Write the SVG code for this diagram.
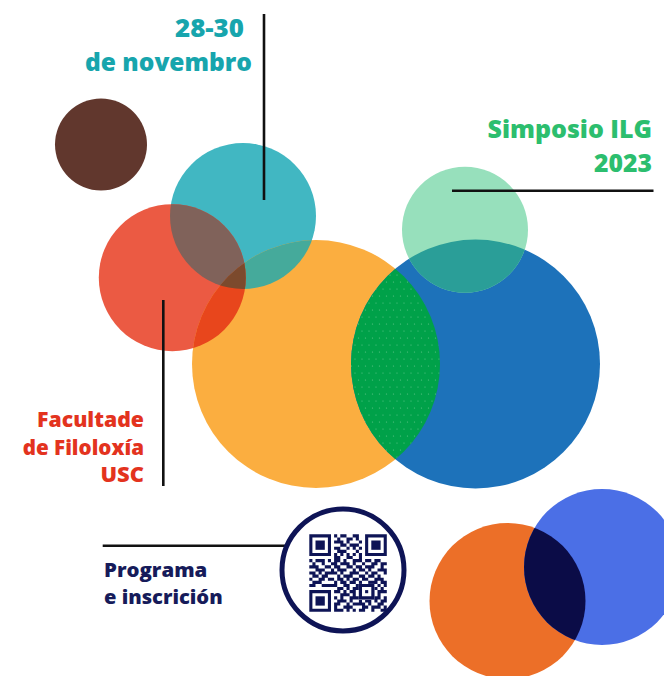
<svg xmlns="http://www.w3.org/2000/svg" width="664" height="676" viewBox="0 0 664 676">
<style>
.t{font-family:"Open Sans","Liberation Sans",sans-serif;font-weight:800;}
.ln{stroke:#111;stroke-width:2.6;fill:none;}
.qr{fill:#0E1456;}
</style>
<defs>
<clipPath id="cOrange"><circle cx="316" cy="364" r="124"/></clipPath>
<clipPath id="cRed"><circle cx="172.3" cy="277.7" r="73.5"/></clipPath>
<clipPath id="cBlue"><circle cx="475.5" cy="364" r="124.5"/></clipPath>
<clipPath id="cOrange2"><circle cx="507.5" cy="601" r="78"/></clipPath>
<pattern id="dots" width="7" height="14" patternUnits="userSpaceOnUse">
<circle cx="1.5" cy="2" r="0.6" fill="#5CC488"/>
<circle cx="5" cy="9" r="0.6" fill="#5CC488"/>
</pattern>
</defs>
<rect width="664" height="676" fill="#fff"/>

<g id="circles">
<circle id="brown" cx="101" cy="144.5" r="46" fill="#61372D"/>
<circle id="teal" cx="243" cy="216" r="73" fill="#41B7C2"/>
<circle id="red" cx="172.3" cy="277.7" r="73.5" fill="#EB5A43"/>
<circle id="orange" cx="316" cy="364" r="124" fill="#FBAE40"/>
<circle id="blue" cx="475.5" cy="364" r="124.5" fill="#1D72BA"/>
<circle id="mint" cx="465" cy="229.7" r="63" fill="#97E0BC"/>
<circle id="orange2" cx="507.5" cy="601" r="78" fill="#EC6F28"/>
<circle id="blue2" cx="602" cy="567" r="78" fill="#4B6FE6"/>
</g>

<g id="overlaps">
<circle cx="243" cy="216" r="73" fill="#80625A" clip-path="url(#cRed)"/>
<circle cx="243" cy="216" r="73" fill="#45AA9B" clip-path="url(#cOrange)"/>
<circle cx="172.3" cy="277.7" r="73.5" fill="#E8461C" clip-path="url(#cOrange)"/>
<g clip-path="url(#cOrange)"><circle cx="243" cy="216" r="73" fill="#7C4A2D" clip-path="url(#cRed)"/></g>
<circle cx="475.5" cy="364" r="124.5" fill="#00A149" clip-path="url(#cOrange)"/>
<circle cx="475.5" cy="364" r="124.5" fill="url(#dots)" clip-path="url(#cOrange)"/>
<circle cx="465" cy="229.7" r="63" fill="#2A9E98" clip-path="url(#cBlue)"/>
<circle cx="602" cy="567" r="78" fill="#0B0C47" clip-path="url(#cOrange2)"/>
</g>

<g id="connectors">
<line class="ln" x1="264" y1="14" x2="264" y2="200"/>
<line class="ln" x1="452" y1="190.7" x2="653.5" y2="190.7"/>
<line class="ln" x1="163.3" y1="300" x2="163.3" y2="486"/>
<line class="ln" x1="102.7" y1="545.7" x2="303" y2="545.7"/>
</g>

<g id="qr-code">
<circle cx="343" cy="570" r="61" fill="#fff" stroke="#0E1456" stroke-width="5"/>
<g class="qr" transform="translate(309.3 534.3) scale(3.1)">
<path fill-rule="evenodd" d="M0 0h7v7h-7z M1 1v5h5v-5z M18 0h7v7h-7z M19 1v5h5v-5z M0 18h7v7h-7z M1 19v5h5v-5z"/>
<rect x="2" y="2" width="3" height="3"/>
<rect x="20" y="2" width="3" height="3"/>
<rect x="2" y="20" width="3" height="3"/>
<path d="M8 0h1v1h-1z M10 0h2v1h-2z M14 0h2v1h-2z
M9 1h1v1h-1z M12 1h2v1h-2z M15 1h1v1h-1z
M8 2h3v1h-3z M12 2h1v1h-1z M16 2h1v1h-1z
M10 3h2v1h-2z M13 3h3v1h-3z
M8 4h2v1h-2z M12 4h1v1h-1z M14 4h1v1h-1z M16 4h1v1h-1z
M9 5h3v1h-3z M15 5h1v1h-1z
M8 6h1v1h-1z M10 6h1v1h-1z M12 6h1v1h-1z M14 6h1v1h-1z M16 6h1v1h-1z
M8 7h2v1h-2z M12 7h2v1h-2z M16 7h1v1h-1z
M0 8h1v1h-1z M2 8h3v1h-3z M6 8h1v1h-1z M8 8h2v1h-2z M11 8h1v1h-1z M14 8h3v1h-3z M18 8h2v1h-2z M21 8h2v1h-2z
M1 9h1v1h-1z M4 9h1v1h-1z M7 9h2v1h-2z M10 9h3v1h-3z M14 9h1v1h-1z M17 9h1v1h-1z M20 9h2v1h-2z M23 9h2v1h-2z
M0 10h3v1h-3z M5 10h2v1h-2z M8 10h2v1h-2z M12 10h2v1h-2z M15 10h2v1h-2z M18 10h3v1h-3z M23 10h1v1h-1z
M2 11h3v1h-3z M7 11h1v1h-1z M9 11h3v1h-3z M14 11h1v1h-1z M16 11h2v1h-2z M19 11h1v1h-1z M22 11h3v1h-3z
M0 12h2v1h-2z M3 12h1v1h-1z M5 12h4v1h-4z M10 12h1v1h-1z M13 12h3v1h-3z M18 12h1v1h-1z M20 12h2v1h-2z M24 12h1v1h-1z
M1 13h2v1h-2z M4 13h2v1h-2z M9 13h1v1h-1z M11 13h3v1h-3z M16 13h2v1h-2z M19 13h2v1h-2z M22 13h1v1h-1z
M0 14h1v1h-1z M3 14h2v1h-2z M6 14h2v1h-2z M9 14h2v1h-2z M12 14h1v1h-1z M14 14h2v1h-2z M17 14h2v1h-2z M21 14h3v1h-3z
M1 15h3v1h-3z M8 15h1v1h-1z M10 15h2v1h-2z M13 15h2v1h-2z M16 15h1v1h-1z M19 15h3v1h-3z M23 15h2v1h-2z
M0 16h2v1h-2z M4 16h5v1h-5z M11 16h2v1h-2z M15 16h1v1h-1z M22 16h1v1h-1z M24 16h1v1h-1z
M9 17h2v1h-2z M12 17h1v1h-1z M14 17h2v1h-2z M17 17h2v1h-2z M20 17h2v1h-2z M23 17h1v1h-1z
M8 18h2v1h-2z M11 18h1v1h-1z M13 18h2v1h-2z M16 18h1v1h-1z M19 18h2v1h-2z M22 18h3v1h-3z
M10 19h3v1h-3z M14 19h1v1h-1z M16 19h3v1h-3z M20 19h1v1h-1z M22 19h1v1h-1z
M8 20h1v1h-1z M10 20h1v1h-1z M13 20h3v1h-3z M17 20h1v1h-1z M20 20h3v1h-3z M24 20h1v1h-1z
M9 21h3v1h-3z M13 21h1v1h-1z M16 21h1v1h-1z M18 21h2v1h-2z M21 21h1v1h-1z M23 21h2v1h-2z
M8 22h2v1h-2z M12 22h1v1h-1z M14 22h4v1h-4z M19 22h1v1h-1z M22 22h2v1h-2z
M8 23h1v1h-1z M11 23h3v1h-3z M17 23h2v1h-2z M20 23h3v1h-3z M24 23h1v1h-1z
M8 24h3v1h-3z M12 24h1v1h-1z M14 24h1v1h-1z M16 24h2v1h-2z M20 24h1v1h-1z M23 24h2v1h-2z"/>
<rect x="16" y="16" width="5" height="5" fill="#fff"/>
<path fill-rule="evenodd" d="M16 16h5v5h-5z M17 17v3h3v-3z"/>
<rect x="18" y="18" width="1" height="1"/>
</g>
</g>

<g id="label-dates" class="t" fill="#17A5AD" font-size="24" text-anchor="end">
<text x="244" y="37" textLength="69" lengthAdjust="spacingAndGlyphs">28-30</text>
<text x="252" y="71" textLength="167" lengthAdjust="spacingAndGlyphs">de novembro</text>
</g>
<g id="label-simposio" class="t" fill="#2CBE6E" font-size="24" text-anchor="end">
<text x="652" y="137.5" textLength="164.5" lengthAdjust="spacingAndGlyphs">Simposio ILG</text>
<text x="652" y="172" textLength="58" lengthAdjust="spacingAndGlyphs">2023</text>
</g>
<g id="label-facultade" class="t" fill="#E3331E" font-size="21" text-anchor="end">
<text x="144" y="427" textLength="107" lengthAdjust="spacingAndGlyphs">Facultade</text>
<text x="144" y="454.5" textLength="121.3" lengthAdjust="spacingAndGlyphs">de Filoloxía</text>
<text x="144" y="482" textLength="43.5" lengthAdjust="spacingAndGlyphs">USC</text>
</g>
<g id="label-programa" class="t" fill="#161B5A" font-size="19">
<text x="104" y="577" textLength="103.3" lengthAdjust="spacingAndGlyphs">Programa</text>
<text x="104" y="603.5" textLength="118.7" lengthAdjust="spacingAndGlyphs">e inscrición</text>
</g>
</svg>
